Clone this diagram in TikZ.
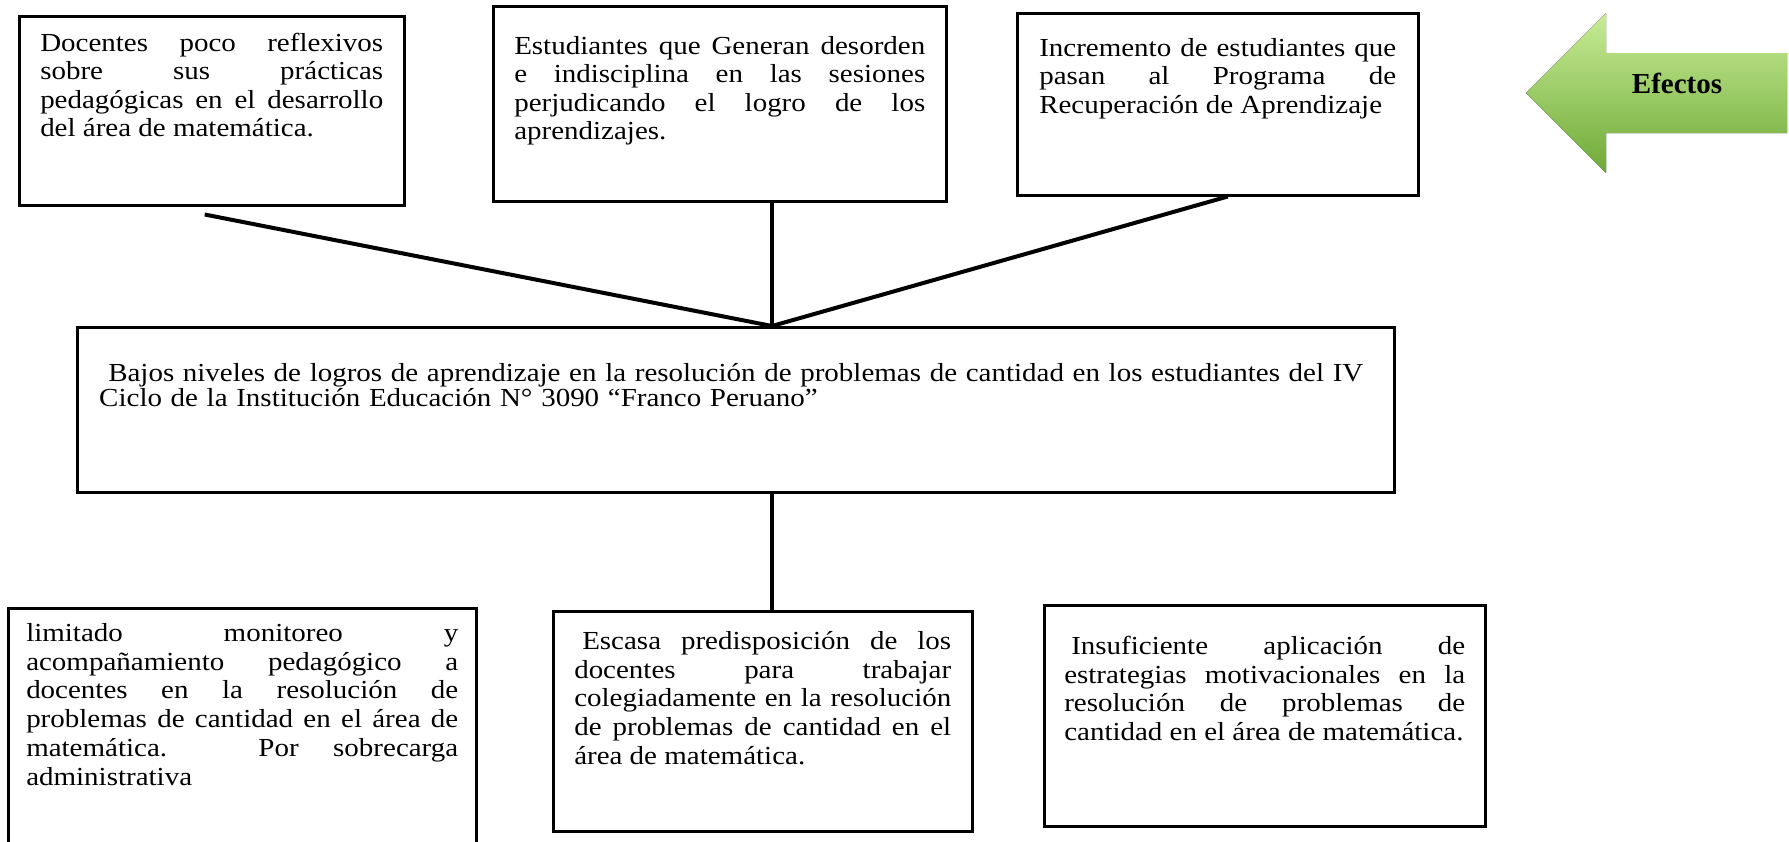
\documentclass[tikz,border=0pt]{standalone}
\usepackage{fontspec}
\setmainfont{Liberation Serif}[FakeStretch=1.115]
\newfontfamily\arrowfont{Liberation Serif}
\usepackage{tikz}
\usetikzlibrary{positioning,calc}
\definecolor{mygreen}{RGB}{146,208,80}
\definecolor{mylightgreen}{RGB}{200,236,150}
\definecolor{mydarkgreen}{RGB}{110,170,55}
\tolerance=10000
\hbadness=10000
\hyphenpenalty=10000

\begin{document}
\begin{tikzpicture}[x=0.5pt,y=-0.5pt,
  box/.style={draw,line width=1.25pt,anchor=north west,inner ysep=0pt,align=justify},
  efnode/.style={box,font=\fontsize{13pt}{14.2pt}\selectfont},
  canode/.style={box,font=\fontsize{13pt}{14.4pt}\selectfont},
  pbnode/.style={box,align=left,font=\fontsize{13pt}{11.15pt}\selectfont},
  edge/.style={line width=2pt}
]
\useasboundingbox (0,0) rectangle (1789,841);

% the effects
\node[efnode,inner xsep=10.5pt,text width=171.5pt,text height=17.5pt,text depth=77pt] (c1) at (18,15)
  {Docentes poco reflexivos\linebreak sobre sus prácticas\linebreak pedagógicas en el desarrollo\linebreak del área de matemática.};
\node[efnode,inner xsep=10.5pt,text width=205.5pt,text height=24pt,text depth=73.5pt] (c2) at (492,5)
  {Estudiantes que Generan desorden\linebreak e indisciplina en las sesiones\linebreak perjudicando el logro de los\linebreak aprendizajes.};
\node[efnode,inner xsep=11pt,text width=178.5pt,text height=21.5pt,text depth=69.5pt] (c3) at (1016,12)
  {Incremento de estudiantes que\linebreak pasan al Programa de\linebreak Recuperación de Aprendizaje};

% the problem
\node[pbnode,inner xsep=11pt,text width=636.5pt,text height=27pt,text depth=55.5pt] (prob) at (76,326)
  {\hspace*{4.5pt}Bajos niveles de logros de aprendizaje en la resolución de problemas de cantidad en los estudiantes del IV\\
   Ciclo de la Institución Educación N° 3090 “Franco Peruano”};

% the causes
\node[canode,inner xsep=9pt,text width=216pt,text height=16.5pt,text depth=110pt] (b1) at (7,607)
  {limitado monitoreo y\linebreak acompañamiento pedagógico a\linebreak docentes en la resolución de\linebreak problemas de cantidad en el área de\linebreak matemática. Por sobrecarga\linebreak administrativa};
\node[canode,inner xsep=10.5pt,text width=188.5pt,text height=19pt,text depth=91pt] (b2) at (552,610)
  {\hspace*{4pt}Escasa predisposición de los\linebreak docentes para trabajar\linebreak colegiadamente en la resolución\linebreak de problemas de cantidad en el\linebreak área de matemática.};
\node[canode,inner xsep=10pt,text width=200.5pt,text height=24.5pt,text depth=86pt] (b3) at (1043,604)
  {\hspace*{3.5pt}Insuficiente aplicación de\linebreak estrategias motivacionales en la\linebreak resolución de problemas de\linebreak cantidad en el área de matemática.};

% the arrow
\fill[top color=mylightgreen,middle color=mygreen,bottom color=mydarkgreen]
  (1526,93) -- (1606,13) -- (1606,53) -- (1787,53) -- (1787,133) -- (1606,133) -- (1606,173) -- cycle;
\node[font=\arrowfont\bfseries\fontsize{14.5pt}{17pt}\selectfont,anchor=base] (efectos) at (1677,93) {Efectos};

% the edges
\coordinate (jt) at (772,326);
\coordinate (jb) at (772,491);
\draw[edge] ([xshift=-3.5pt,yshift=-4pt]c1.south) -- (jt);
\draw[edge] (c2.south -| jt) -- (jt);
\draw[edge] ([xshift=5pt]c3.south) -- (jt);
\draw[edge] (jb) -- (jb |- b2.north);
\end{tikzpicture}
\end{document}
